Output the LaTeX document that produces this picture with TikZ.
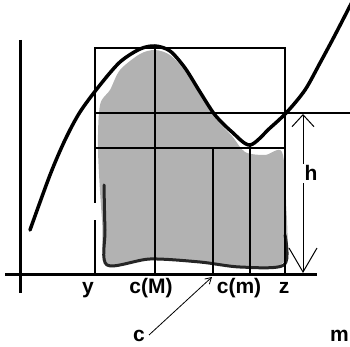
\documentclass[tikz,border=0pt]{standalone}
\usepackage{fontspec}
\setmainfont{Liberation Sans}
\usetikzlibrary{arrows.meta}

\begin{document}
\begin{tikzpicture}[x=1pt, y=-1pt,
  axis/.style={line width=3pt},
  frame/.style={line width=1.5pt},
  curve/.style={line width=3.5pt, line join=round, line cap=round},
  blob/.style={fill=black!30},
  rim/.style={line width=3pt, black!85, line join=round, line cap=round},
  lbl/.style={font=\fontsize{21}{24}\selectfont\bfseries, inner sep=1pt, anchor=base},
  harrow/.style={line width=1pt,
    {Straight Barb[length=24pt,width=28pt]}-{Straight Barb[length=12pt,width=22pt]}},
  pointer/.style={line width=0.8pt, -{Straight Barb[length=6pt,width=7pt]}},
]
\useasboundingbox (0,0) rectangle (350,347);
\clip (0,0) rectangle (350,347);

% axes
\coordinate (ytop) at (20,40);
\coordinate (ybot) at (20,293);
\coordinate (xleft) at (5,274);
\coordinate (xright) at (317,274);

% shaded area under the curve
\fill[blob] plot[smooth cycle, tension=0.5] coordinates {
  (100,105) (110,90) (120,70) (140,54) (155,50) (170,55) (185,71) (200,95)
  (215,118) (232,136) (245,152) (265,155) (282,152) (286,200) (284,262)
  (240,266) (200,262) (150,258) (107,266) (102,220) (98,150)};
\draw[rim] plot[smooth, tension=0.5] coordinates {
  (104,185) (105,230) (107,265) (150,259) (200,262) (240,267) (284,265) (285,235)};

% frame and guide lines
\draw[frame] (95,203) -- (95,48) -- (285,48) -- (285,274);
\draw[frame] (95,220) -- (95,274);
\draw[frame] (95,113) -- (350,113);
\draw[frame] (95,148) -- (285,148);
\draw[frame] (155,48) -- (155,274);
\draw[frame] (213,148) -- (213,274);
\draw[frame] (250,145) -- (250,274);

\draw[axis] (xleft) -- (xright);
\draw[axis] (ytop) -- (ybot);

% the function
\draw[curve] plot[smooth, tension=0.5] coordinates {
  (30,230) (50,175) (65,140) (80,112) (100,85) (120,62) (140,49) (155,46)
  (170,51) (185,68) (200,92) (215,115) (232,132) (250,145) (270,128)
  (287,112) (305,90) (320,63) (335,35) (352,2)};

% height h
\coordinate (hbot) at (303,273);
\coordinate (htop) at (303,114);
\draw[harrow] (hbot) -- (htop);
\node[lbl, fill=white, inner sep=2pt] (hlab) at (311,181) {h};

% labels on the axis
\node[lbl] (ylab) at (88,293) {y};
\node[lbl] (cMlab) at (151,293) {c(M)};
\node[lbl] (cmlab) at (239,293) {c(m)};
\node[lbl] (zlab) at (284,293) {z};

% the point c
\node[lbl] (clab) at (139,341) {c};
\node[lbl, anchor=base west] (mlab) at (329,341) {m};
\coordinate (cfoot) at (149,335);
\coordinate (ctip) at (212,277);
\draw[pointer] (cfoot) -- (ctip);
\end{tikzpicture}
\end{document}
